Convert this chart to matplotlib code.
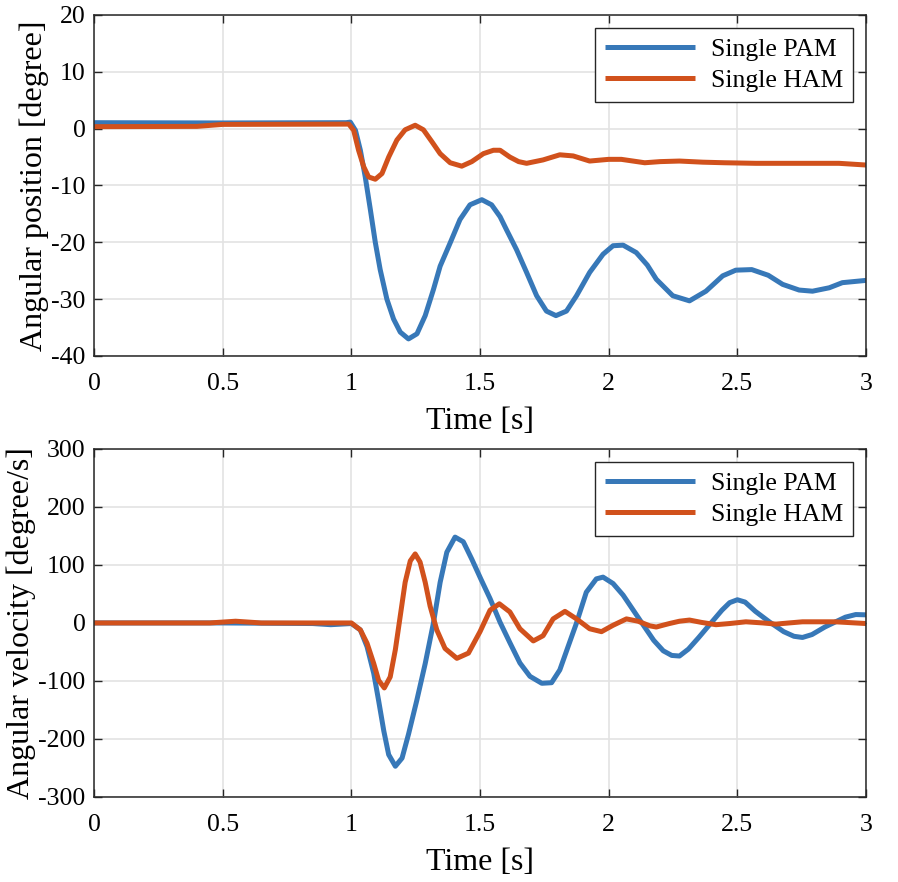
import numpy as np
import matplotlib
matplotlib.use("Agg")
import matplotlib.pyplot as plt

plt.rcParams["font.family"] = ["Liberation Serif", "DejaVu Serif"]
plt.rcParams["axes.unicode_minus"] = False

# ---------------- data ----------------
# angular position [degree]
t_pam_pos = [0.0, 0.5, 0.98, 0.996, 1.016, 1.035, 1.054, 1.074, 1.093, 1.112,
             1.138, 1.164, 1.19, 1.222, 1.255, 1.287, 1.319, 1.345, 1.384, 1.422,
             1.461, 1.507, 1.545, 1.578, 1.603, 1.642, 1.681, 1.72, 1.758, 1.795,
             1.836, 1.875, 1.926, 1.978, 2.017, 2.056, 2.107, 2.15, 2.185, 2.249,
             2.314, 2.378, 2.443, 2.494, 2.556, 2.62, 2.676, 2.74, 2.792, 2.857,
             2.908, 3.0]
pam_pos = [1.05, 1.0, 1.05, 1.15, -0.3, -3.8, -8.5, -14.3, -20.0, -24.8,
           -30.0, -33.5, -35.8, -37.0, -36.1, -32.9, -28.3, -24.2, -20.1, -16.0,
           -13.4, -12.5, -13.4, -15.5, -17.8, -21.3, -25.3, -29.4, -32.1, -32.9,
           -32.1, -29.4, -25.3, -22.1, -20.6, -20.5, -21.8, -24.0, -26.5, -29.4,
           -30.3, -28.6, -25.9, -24.9, -24.8, -25.8, -27.4, -28.4, -28.6, -28.0,
           -27.1, -26.7]

t_ham_pos = [0.0, 0.4, 0.5, 0.99, 1.009, 1.028, 1.048, 1.067, 1.093, 1.119,
             1.145, 1.177, 1.209, 1.248, 1.28, 1.313, 1.345, 1.384, 1.429, 1.468,
             1.513, 1.552, 1.578, 1.616, 1.65, 1.681, 1.745, 1.81, 1.862, 1.926,
             2.0, 2.049, 2.14, 2.2, 2.275, 2.366, 2.45, 2.572, 2.75, 2.895, 3.0]
ham_pos = [0.35, 0.4, 0.75, 0.8, -0.3, -3.8, -6.7, -8.5, -8.9, -7.9,
           -5.0, -2.0, -0.2, 0.6, -0.2, -2.3, -4.4, -6.0, -6.6, -5.8,
           -4.4, -3.8, -3.8, -5.0, -5.8, -6.1, -5.5, -4.6, -4.8, -5.7,
           -5.4, -5.4, -6.0, -5.8, -5.7, -5.9, -6.0, -6.1, -6.1, -6.1, -6.4]

# angular velocity [degree/s]
t_pam_vel = [0.0, 0.5, 0.85, 0.92, 1.0, 1.035, 1.061, 1.087, 1.106, 1.126,
             1.145, 1.171, 1.197, 1.222, 1.254, 1.287, 1.319, 1.345, 1.371, 1.403,
             1.435, 1.468, 1.504, 1.539, 1.578, 1.616, 1.655, 1.694, 1.74, 1.778,
             1.81, 1.842, 1.875, 1.913, 1.952, 1.978, 2.017, 2.056, 2.094, 2.135,
             2.175, 2.212, 2.245, 2.275, 2.31, 2.35, 2.39, 2.44, 2.47, 2.5,
             2.53, 2.57, 2.624, 2.68, 2.72, 2.753, 2.79, 2.84, 2.882, 2.92,
             2.96, 3.0]
pam_vel = [0.0, 0.0, -1.0, -3.0, -1.0, -12.0, -41.0, -87.0, -134.0, -186.0,
           -227.0, -247.0, -233.0, -192.0, -134.0, -70.0, 0.0, 70.0, 122.0, 148.0,
           140.0, 110.0, 75.0, 42.0, 1.0, -34.0, -69.0, -92.0, -104.0, -103.0,
           -81.0, -41.0, 0.0, 53.0, 76.0, 79.0, 68.0, 48.0, 23.0, -4.0,
           -30.0, -48.0, -56.0, -57.0, -45.0, -25.0, -4.0, 22.0, 35.0, 40.0,
           36.0, 20.0, 2.0, -15.0, -23.0, -25.0, -20.0, -7.0, 2.0, 10.0,
           14.5, 14.0]

t_ham_vel = [0.0, 0.45, 0.55, 0.65, 1.0, 1.035, 1.061, 1.087, 1.106, 1.128,
             1.151, 1.171, 1.19, 1.209, 1.229, 1.248, 1.267, 1.287, 1.306, 1.332,
             1.364, 1.41, 1.455, 1.5, 1.539, 1.575, 1.616, 1.655, 1.707, 1.745,
             1.784, 1.83, 1.875, 1.926, 1.972, 2.017, 2.069, 2.114, 2.16, 2.185,
             2.21, 2.236, 2.275, 2.314, 2.36, 2.417, 2.47, 2.533, 2.6, 2.65,
             2.7, 2.753, 2.88, 3.0]
ham_vel = [0.0, 0.0, 3.0, 0.0, 0.0, -12.0, -35.0, -70.0, -99.0, -112.0,
           -93.0, -46.0, 12.0, 70.0, 107.0, 119.0, 105.0, 70.0, 29.0, -12.0,
           -44.0, -61.0, -52.0, -15.0, 22.0, 33.0, 19.0, -10.0, -31.0, -22.0,
           7.0, 20.0, 7.0, -10.0, -15.0, -4.0, 7.0, 3.0, -5.0, -7.0,
           -4.0, -1.0, 3.0, 5.0, 1.0, -3.0, -1.0, 2.0, 0.0, -2.0,
           0.0, 2.0, 2.0, -1.0]

labels = ["Single PAM", "Single HAM"]
blue = "#3778b8"
orange = "#d1511c"

fig = plt.figure(figsize=(8.98, 8.82), dpi=100)
ax1 = fig.add_axes([0.1047, 0.5964, 0.8597, 0.3866])
ax2 = fig.add_axes([0.1047, 0.0964, 0.8597, 0.3946])

line_kw = dict(lw=3.6, solid_joinstyle="round", solid_capstyle="butt")
ax1.plot(t_pam_pos, pam_pos, color=blue, label=labels[0], **line_kw)
ax1.plot(t_ham_pos, ham_pos, color=orange, label=labels[1], **line_kw)
ax2.plot(t_pam_vel, pam_vel, color=blue, label=labels[0], **line_kw)
ax2.plot(t_ham_vel, ham_vel, color=orange, label=labels[1], **line_kw)

ax1.set_ylim(-40, 20)
ax1.set_yticks(np.arange(-40, 21, 10))
ax1.set_ylabel("Angular position [degree]", fontsize=23, labelpad=2)
ax2.set_ylim(-300, 300)
ax2.set_yticks(np.arange(-300, 301, 100))
ax2.set_ylabel("Angular velocity [degree/s]", fontsize=23, labelpad=2)

for ax in (ax1, ax2):
    ax.set_xlim(0, 3)
    ax.set_xticks([0, 0.5, 1, 1.5, 2, 2.5, 3])
    ax.set_xticklabels(["0", "0.5", "1", "1.5", "2", "2.5", "3"])
    ax.set_xlabel("Time [s]", fontsize=23, labelpad=9)
    ax.grid(True, color="#e3e3e3", lw=1.2)
    ax.set_axisbelow(True)
    ax.tick_params(direction="in", top=True, right=True, labelsize=18.5,
                   length=6, width=1, color="#262626")
    ax.tick_params(axis="x", pad=12)
    ax.tick_params(axis="y", pad=6)
    for s in ax.spines.values():
        s.set_color("#262626")
        s.set_linewidth(1.1)
    leg = ax.legend(loc="upper right", fontsize=18.5, handlelength=3.5,
                    fancybox=False, framealpha=1, edgecolor="#262626",
                    borderaxespad=0.5, handletextpad=0.6, labelspacing=0.3)
    leg.get_frame().set_linewidth(1.0)

fig.savefig("out.png", dpi=100)
